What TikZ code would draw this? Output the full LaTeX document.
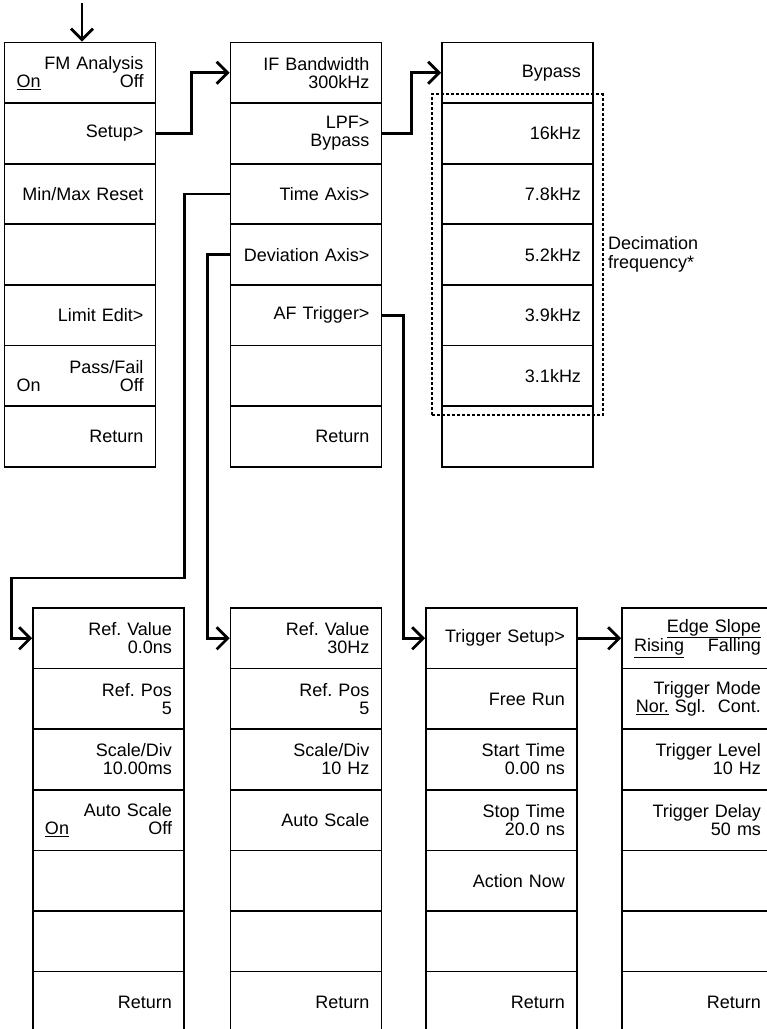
\documentclass[tikz,border=0pt]{standalone}
\usepackage{fontspec}
\setmainfont{Liberation Sans}
\frenchspacing
\usetikzlibrary{arrows.meta,positioning,fit}
\tikzset{
  menucell/.style={draw=black, line width=1.7pt, minimum width=151pt, minimum height=60.6pt, text width=127pt, align=right, inner sep=0pt, font=\fontsize{18}{18}\selectfont},
  menulink/.style={-{Straight Barb[length=11pt,width=22pt]}, line width=2.8pt},
  decimbox/.style={draw=black, dash pattern=on 3pt off 2pt, line width=1.6pt, inner xsep=9pt, inner ysep=8pt}
}
\newcommand{\onoff}[2]{\hbox to\hsize{#1\hfil #2}}
\newcommand{\menucolumn}[4]{%
  \foreach \txt [count=\i] in {#4}
    \node[menucell] (#1-\i) at (#2, #3+30.3+60.6*\i-60.6) {\txt};
}
\begin{document}
\begin{tikzpicture}[x=1pt,y=-1pt]
  \useasboundingbox (0,0) rectangle (767,1029);
  \clip (0,0) rectangle (767,1029);

  % upper menus
  \menucolumn{m1}{80}{42.5}{{FM Analysis\\\onoff{\underline{On}}{Off}},{Setup>},{Min/Max Reset},{},{Limit Edit>},{Pass/Fail\\\onoff{On}{Off}},{Return}}
  \menucolumn{m2}{306}{42.5}{{IF Bandwidth\\300kHz},{LPF>\\Bypass},{Time Axis>},{Deviation Axis>},{AF Trigger>},{},{Return}}
  \menucolumn{m3}{517.5}{42.5}{{Bypass},{16kHz},{7.8kHz},{5.2kHz},{3.9kHz},{3.1kHz},{}}

  % lower menus
  \menucolumn{b1}{108.5}{608}{{Ref. Value\\0.0ns},{Ref. Pos\\5},{Scale/Div\\10.00ms},{Auto Scale\\\onoff{\underline{On}}{Off}},{},{},{Return}}
  \menucolumn{b2}{306}{608}{{Ref. Value\\30Hz},{Ref. Pos\\5},{Scale/Div\\10 Hz},{Auto Scale},{},{},{Return}}
  \menucolumn{b3}{501.5}{608}{{Trigger Setup>},{Free Run},{Start Time\\0.00 ns},{Stop Time\\20.0 ns},{Action Now},{},{Return}}
  \menucolumn{b4}{697.5}{608}{{\underline{Edge Slope}\\\onoff{\underline{Rising}}{Falling}},{Trigger Mode\\\underline{Nor.} Sgl.\ \ Cont.},{Trigger Level\\10 Hz},{Trigger Delay\\50 ms},{},{},{Return}}

  \node[decimbox, fit=(m3-2)(m3-6)] (decim) {};
  \node[right=1pt of decim.east, align=left, font=\fontsize{18}{19}\selectfont] (decimlabel) {Decimation\\frequency*};

  \coordinate (entry) at (82,3);
  \draw[menulink] (entry) -- (entry |- m1-1.north);
  \draw[menulink] (m1-2.east) -- ++(35,0) |- (m2-1.west);
  \draw[menulink] (m2-2.east) -- ++(29,0) |- (m3-1.west);
  \draw[menulink] (m2-3.west) -- ++(-45,0) |- ++(-173,384) |- (b1-1.west);
  \draw[menulink] (m2-4.west) -- ++(-22,0) |- (b2-1.west);
  \draw[menulink] (m2-5.east) -- ++(21,0) |- (b3-1.west);
  \draw[menulink] (b3-1.east) -- (b4-1.west);
\end{tikzpicture}
\end{document}
